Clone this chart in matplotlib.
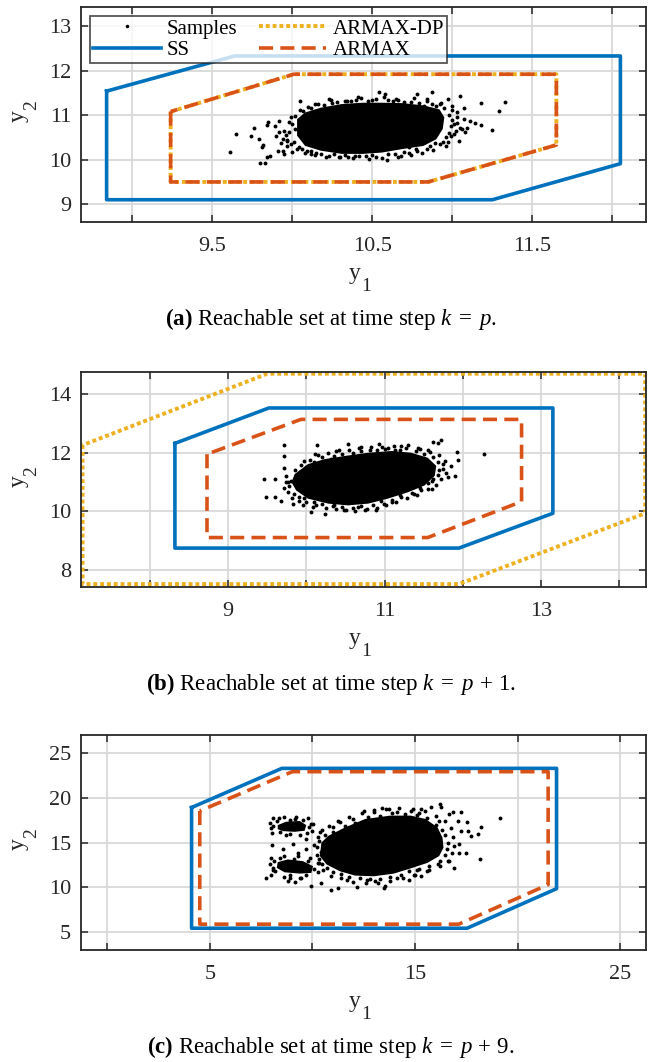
import numpy as np
import matplotlib
matplotlib.use('Agg')
import matplotlib.pyplot as plt

plt.rcParams['font.family'] = 'Liberation Serif'
plt.rcParams['mathtext.fontset'] = 'custom'
plt.rcParams['mathtext.rm'] = 'Liberation Serif'
plt.rcParams['mathtext.it'] = 'Liberation Serif:italic'
plt.rcParams['mathtext.bf'] = 'Liberation Serif:bold'

blue = '#0072BD'
orange = '#D95319'
yellow = '#EDB120'
dark = '#262626'

# ---------------- (a) k = p ----------------
ss_a_x = [8.84, 8.84, 11.25, 12.05, 12.05, 9.64]
ss_a_y = [11.54, 9.10, 9.10, 9.91, 12.33, 12.33]
armax_a_x = [9.24, 9.24, 10.85, 11.65, 11.65, 10.01]
armax_a_y = [11.08, 9.50, 9.50, 10.33, 11.92, 11.92]
dp_a_x = [9.24, 9.24, 10.85, 11.65, 11.65, 10.01]
dp_a_y = [11.08, 9.50, 9.50, 10.33, 11.92, 11.92]

# dense core of the sample cloud (outline)
core_a_x = [10.03, 10.08, 10.18, 10.31, 10.44, 10.56, 10.69, 10.82, 10.92, 10.95,
            10.94, 10.90, 10.82, 10.69, 10.56, 10.44, 10.31, 10.18, 10.08, 10.03]
core_a_y = [10.91, 11.06, 11.17, 11.25, 11.28, 11.28, 11.27, 11.22, 11.13, 10.95,
            10.69, 10.46, 10.31, 10.24, 10.16, 10.13, 10.13, 10.20, 10.31, 10.54]
# scattered samples around the core
pts_a_x = [9.61, 9.65, 9.80, 9.83, 9.84, 9.86, 9.81, 9.82, 9.79, 9.76, 9.74, 9.84, 9.85,
           9.89, 9.90, 9.92, 9.94, 9.95, 9.94, 9.91, 9.97, 9.99, 10.00, 10.05, 10.07,
           10.12, 10.18, 10.23, 10.30, 10.34, 10.41, 10.46, 10.54, 10.58, 10.59, 10.65,
           10.68, 10.73, 10.78, 10.82, 10.87, 10.93, 10.97, 11.00, 11.05, 11.07, 11.03,
           11.11, 11.14, 11.18, 11.18, 11.25, 11.29, 11.33, 11.04, 10.96, 10.89, 10.99,
           11.06, 11.09, 11.01, 10.84, 10.77, 10.39, 10.08, 10.04,
           10.14, 10.25, 10.37, 10.50, 10.63, 10.74, 10.87, 10.10, 10.23, 10.35, 10.52,
           10.64, 10.73, 10.84, 10.12,
           9.98, 10.00, 10.01, 9.97, 10.02, 9.96, 10.12, 10.20, 10.28, 10.40, 10.47,
           10.60, 10.70, 10.79, 10.90, 10.95, 10.98, 11.00, 10.99, 10.98, 10.96, 11.02,
           11.03, 10.94, 10.86, 10.78, 10.70, 10.60, 10.50, 10.42, 10.33, 10.26, 10.15,
           10.06,
           9.97, 9.99, 9.95, 9.98, 10.02, 9.93, 9.92, 10.05, 10.16, 10.24, 10.33, 10.43,
           10.52, 10.57, 10.66, 10.76, 10.84, 10.92, 11.00, 11.03, 11.05, 11.01, 10.97,
           11.08, 11.07, 10.92, 10.88, 10.81, 10.74, 10.66, 10.56, 10.48, 10.38, 10.29,
           10.21, 10.14, 10.09, 10.03]
pts_a_y = [10.18, 10.57, 9.92, 9.92, 10.05, 10.09, 10.28, 10.33, 10.46, 10.72, 10.54, 10.78, 10.85,
           10.75, 10.54, 10.87, 10.46, 10.13, 10.20, 10.20, 10.43, 10.95, 10.18, 11.32, 11.10,
           10.20, 10.13, 11.36, 10.05, 11.32, 11.40, 10.09, 11.53, 11.47, 10.00, 11.36,
           10.09, 10.28, 11.47, 11.21, 11.51, 11.28, 11.36, 11.21, 11.43, 11.17, 11.06,
           10.87, 10.82, 10.78, 11.28, 10.66, 11.10, 11.30, 10.43, 10.30, 10.37, 10.54,
           10.70, 10.72, 10.80, 11.36, 10.24, 10.09, 10.16, 10.28,
           11.25, 11.28, 11.32, 11.34, 11.32, 11.30, 11.25, 11.19, 10.09, 10.07, 10.07,
           10.13, 10.16, 10.24, 10.13,
           10.62, 10.80, 10.40, 10.30, 10.70, 10.55, 11.15, 11.22, 11.30, 11.34, 11.31,
           11.33, 11.30, 11.27, 11.20, 11.15, 11.00, 10.90, 10.75, 10.60, 10.50, 10.65,
           10.95, 10.40, 10.30, 10.20, 10.18, 10.12, 10.10, 10.08, 10.10, 10.12, 10.16,
           10.24,
           10.45, 10.35, 10.65, 10.85, 10.98, 10.38, 10.62, 11.12, 11.25, 11.35, 11.31, 11.38,
           11.36, 11.41, 11.35, 11.38, 11.31, 11.26, 11.12, 10.83, 10.72, 10.58, 10.40,
           10.62, 10.92, 10.35, 10.22, 10.16, 10.10, 10.07, 10.04, 10.02, 10.03, 10.06,
           10.07, 10.11, 10.19, 10.25]

# ---------------- (b) k = p + 1 ----------------
ss_b_x = [8.32, 8.32, 11.95, 13.15, 13.15, 9.52]
ss_b_y = [12.32, 8.74, 8.74, 9.93, 13.53, 13.53]
armax_b_x = [8.73, 8.73, 11.55, 12.75, 12.75, 9.93]
armax_b_y = [11.95, 9.10, 9.10, 10.33, 13.14, 13.14]
dp_b_x = [7.14, 7.14, 11.95, 14.33, 14.33, 9.50]
dp_b_y = [12.26, 7.51, 7.51, 9.93, 14.70, 14.70]

core_b_x = [9.85, 10.02, 10.23, 10.49, 10.79, 11.09, 11.34, 11.55, 11.66, 11.64,
            11.51, 11.30, 11.04, 10.79, 10.53, 10.28, 10.02, 9.87, 9.81]
core_b_y = [11.27, 11.61, 11.78, 11.89, 12.00, 12.06, 12.00, 11.83, 11.55, 11.21,
            10.88, 10.65, 10.43, 10.26, 10.20, 10.26, 10.43, 10.71, 10.99]
pts_b_x = [9.72, 10.13, 10.53, 10.93, 9.72, 9.72, 9.97, 10.11, 9.46, 9.60, 9.49, 9.60,
           9.67, 9.74, 9.77, 9.83, 9.96, 10.06, 10.09, 10.24, 10.34, 10.51, 10.66, 10.78,
           10.89, 10.99, 11.09, 11.21, 11.38, 11.47, 11.60, 11.62, 11.74, 11.81, 11.90,
           11.94, 11.92, 11.77, 11.68, 11.72, 11.62, 11.55, 11.30, 11.13, 11.04, 10.70,
           10.81, 10.32, 10.38, 11.43, 11.85, 10.17, 11.21, 12.27,
           9.78, 9.80, 9.84, 9.90, 9.92, 10.00, 10.10, 10.20, 10.35, 10.45, 10.60, 10.70,
           10.90, 11.00, 11.20, 11.40, 11.50, 11.62, 11.68, 11.70, 11.68, 11.60, 11.55,
           11.45, 11.35, 11.20, 11.10, 10.95, 10.85, 10.70, 10.60, 10.45, 10.35, 10.20,
           10.10, 9.97,
           9.72, 9.74, 9.76, 9.82, 9.85, 9.93, 10.05, 10.15, 10.28, 10.42, 10.55, 10.67,
           10.82, 10.97, 11.12, 11.27, 11.45, 11.58, 11.70, 11.75, 11.78, 11.72, 11.66,
           11.55, 11.42, 11.28, 11.15, 11.02, 10.90, 10.75, 10.62, 10.48, 10.38, 10.25,
           10.12, 10.00, 9.90]
pts_b_y = [12.28, 12.28, 12.31, 12.30, 11.89, 11.49, 11.72, 11.94, 11.10, 11.10, 10.48, 10.48,
           10.34, 11.21, 10.99, 10.26, 10.20, 9.98, 10.15, 9.92, 10.18, 10.03, 10.15, 10.07,
           10.03, 10.26, 10.31, 10.48, 10.60, 10.71, 10.76, 11.10, 11.44, 11.16, 11.21,
           11.75, 12.02, 11.72, 12.34, 12.45, 12.38, 12.11, 12.28, 12.11, 12.15, 12.19,
           12.11, 11.78, 12.06, 12.17, 11.55, 11.66, 12.22, 11.94,
           10.85, 11.05, 10.60, 10.50, 11.35, 11.50, 11.68, 11.85, 11.90, 11.97, 12.00, 12.05,
           12.08, 12.12, 12.08, 12.05, 11.95, 11.85, 11.70, 11.40, 11.25, 11.05, 10.95,
           10.80, 10.62, 10.55, 10.40, 10.35, 10.22, 10.18, 10.12, 10.15, 10.20, 10.25,
           10.32, 10.45,
           10.80, 11.00, 10.65, 10.45, 11.40, 11.58, 11.75, 11.92, 11.98, 12.08, 12.10, 12.15,
           12.18, 12.20, 12.22, 12.17, 12.13, 12.03, 11.92, 11.60, 11.30, 11.10, 10.90,
           10.75, 10.55, 10.45, 10.30, 10.22, 10.12, 10.05, 10.02, 10.05, 10.08, 10.12,
           10.22, 10.30, 10.35]

# ---------------- (c) k = p + 9 ----------------
ss_c_x = [4.11, 4.11, 17.54, 21.90, 21.90, 8.51]
ss_c_y = [18.91, 5.45, 5.45, 9.86, 23.28, 23.28]
armax_c_x = [4.51, 4.51, 17.13, 21.49, 21.49, 9.02]
armax_c_y = [18.53, 5.90, 5.90, 10.31, 22.91, 22.91]

core_c_x = [10.77, 11.59, 12.57, 13.80, 14.79, 15.52, 16.10, 16.34, 16.39, 16.18,
            15.61, 14.87, 13.97, 12.98, 12.08, 11.34, 10.69, 10.36, 10.44]
core_c_y = [15.75, 16.69, 17.63, 18.01, 18.01, 17.63, 16.69, 15.56, 14.44, 13.50,
            12.74, 12.18, 11.54, 11.24, 11.32, 11.80, 12.56, 13.50, 15.00]
core_c2_x = [8.31, 8.72, 9.38, 9.70, 9.62, 9.13, 8.56, 8.31]
core_c2_y = [16.95, 17.33, 17.41, 16.95, 16.32, 16.20, 16.28, 16.50]
core_c3_x = [8.31, 8.80, 9.54, 10.03, 9.95, 9.38, 8.64, 8.26]
core_c3_y = [12.82, 13.12, 12.93, 12.37, 11.62, 11.54, 11.69, 12.18]
pts_c_x = [7.74, 8.03, 8.07, 8.07, 8.80, 9.13, 8.89, 9.46, 9.95, 10.44, 10.93, 11.26,
           11.67, 12.16, 12.66, 13.07, 13.48, 13.56, 14.13, 14.70, 14.95, 15.28, 15.11,
           15.69, 16.10, 16.67, 16.92, 17.16, 17.49, 18.15, 17.16, 17.25, 17.57, 17.74,
           18.07, 18.23, 17.54, 17.08, 16.84, 16.67, 16.23, 16.26, 15.77, 15.28, 15.20,
           14.79, 14.13, 13.72, 13.39, 12.98, 12.49, 12.00, 11.34, 11.02, 10.36, 9.95,
           9.70, 9.70, 9.05, 19.13, 8.56, 9.30, 7.98, 8.39, 9.13, 16.18, 17.25,
           10.40, 10.30, 10.45, 10.70, 11.00, 11.40, 11.80, 12.30, 12.80, 13.30, 13.80,
           14.30, 14.70, 15.20, 15.70, 16.20, 16.45, 16.55, 16.60, 16.45, 16.30, 16.00,
           15.60, 15.10, 14.50, 13.90, 13.30, 12.70, 12.10, 11.60, 11.00, 10.60, 10.30,
           10.20,
           8.10, 8.25, 8.90, 9.55, 9.85, 9.75, 8.90, 8.40, 8.15, 8.40, 9.10, 9.80, 10.10,
           9.70, 8.90, 8.20,
           10.20, 10.10, 10.25, 10.45, 10.80, 11.25, 11.80, 12.40, 13.00, 13.60, 14.20,
           14.90, 15.50, 16.00, 16.45, 16.75, 16.85, 16.90, 16.80, 16.60, 16.20, 15.60,
           15.00, 14.40, 13.80, 13.20, 12.60, 12.00, 11.40, 10.90, 10.50, 10.25,
           7.95, 8.10, 8.60, 9.20, 9.80, 10.05, 10.00, 9.40, 8.70, 8.05, 7.95, 8.00, 8.60,
           9.30, 9.90, 10.30, 10.25, 9.40, 8.60, 8.00]
pts_c_y = [11.05, 14.70, 12.18, 11.92, 10.68, 10.56, 11.05, 11.05, 10.11, 10.49, 9.74, 9.92,
           10.86, 10.04, 10.86, 10.68, 9.92, 10.19, 11.05, 10.86, 11.43, 11.24, 11.92,
           11.92, 12.56, 12.93, 12.18, 13.87, 13.87, 13.20, 14.81, 16.32, 16.32, 15.68,
           15.94, 16.69, 17.26, 17.44, 18.38, 18.20, 19.32, 18.95, 18.95, 18.76, 18.31,
           18.57, 18.38, 18.76, 18.83, 18.38, 18.57, 17.63, 17.26, 16.69, 16.13, 17.07,
           15.38, 14.25, 14.81, 17.71, 14.25, 13.87, 16.58, 17.71, 17.63, 17.44, 18.38,
           14.00, 13.20, 12.60, 12.20, 11.70, 11.50, 11.20, 11.00, 10.90, 10.95, 11.20,
           11.40, 11.80, 12.00, 12.40, 12.90, 13.60, 14.30, 15.00, 15.80, 16.40, 17.00,
           17.70, 18.10, 18.20, 18.25, 18.00, 17.80, 17.20, 16.90, 16.20, 15.80, 15.20,
           14.50,
           16.90, 17.40, 17.55, 17.50, 16.70, 16.05, 16.00, 16.20, 12.90, 13.25, 13.20, 12.90, 12.00,
           11.35, 11.40, 11.80,
           13.60, 14.70, 15.60, 16.40, 16.90, 17.40, 17.80, 18.30, 18.60, 18.80, 18.90,
           18.80, 18.50, 18.00, 17.40, 16.60, 15.60, 14.60, 13.80, 13.00, 12.40, 11.80,
           11.40, 11.00, 10.70, 10.50, 10.50, 10.60, 11.00, 11.30, 11.90, 12.70,
           17.20, 17.70, 17.85, 17.90, 17.70, 17.10, 16.30, 15.80, 15.80, 16.10, 12.60, 13.30, 13.50,
           13.50, 13.30, 12.70, 11.70, 11.10, 11.15, 11.40]

captions = [r'$\mathbf{(a)}$ Reachable set at time step $k \;=\; p$.',
            r'$\mathbf{(b)}$ Reachable set at time step $k \;=\; p \,+\, 1$.',
            r'$\mathbf{(c)}$ Reachable set at time step $k \;=\; p \,+\, 9$.']

W, H = 650.0, 1062.0
panels_px = [(7, 222), (372, 587), (735, 950)]   # top, bottom of each axes in pixels


def closed(v):
    return list(v) + [v[0]]


def style_axes(ax, xlim, ylim, xticks, xlabels, yticks):
    ax.set_xlim(xlim)
    ax.set_ylim(ylim)
    ax.set_xticks(xticks)
    ax.set_xticklabels(xlabels)
    ax.set_yticks(yticks)
    ax.grid(True, color='#d9d9d9', linewidth=1.3)
    ax.set_axisbelow(True)
    ax.tick_params(direction='in', top=True, right=True, length=5, width=1.1,
                   colors=dark, labelsize=16)
    ax.tick_params(axis='x', pad=11)
    ax.tick_params(axis='y', pad=7)
    for s in ax.spines.values():
        s.set_linewidth(1.3)
        s.set_color(dark)


def axis_labels(fig, top, bottom):
    cx = 363.5
    fig.text((cx - 3) / W, 1 - (bottom + 57) / H, 'y', ha='right', va='baseline',
             fontsize=17, color=dark)
    fig.text((cx - 2) / W, 1 - (bottom + 69) / H, '1', ha='left', va='baseline',
             fontsize=14, color=dark)
    cy = (top + bottom) / 2 - 4
    fig.text(24 / W, 1 - cy / H, 'y', rotation=90, rotation_mode='anchor', ha='right',
             va='baseline', fontsize=17, color=dark)
    fig.text(36 / W, 1 - cy / H, '2', rotation=90, rotation_mode='anchor', ha='left',
             va='baseline', fontsize=14, color=dark)


fig = plt.figure(figsize=(6.5, 10.62), dpi=100)
axes = [fig.add_axes([81 / W, 1 - b / H, 565 / W, (b - t) / H]) for t, b in panels_px]
ax_a, ax_b, ax_c = axes

ms = 2.8
lw = 2.6
lw_dot = 2.8
dash = (0, (3.9, 2.0))
dot = (0, (1.0, 0.75))

# (a)
ax_a.fill(core_a_x, core_a_y, color='k', lw=0)
h_s, = ax_a.plot(pts_a_x, pts_a_y, 'o', ms=ms, mew=0, color='k', label='Samples')
h_ss, = ax_a.plot(closed(ss_a_x), closed(ss_a_y), color=blue, lw=lw, label='SS')
h_dp, = ax_a.plot(closed(dp_a_x), closed(dp_a_y), color=yellow, lw=lw_dot, ls=dot,
                  dash_capstyle='butt', label='ARMAX-DP')
h_ar, = ax_a.plot(closed(armax_a_x), closed(armax_a_y), color=orange, lw=lw, ls=dash,
                  dash_capstyle='butt', label='ARMAX')
style_axes(ax_a, (8.68, 12.21), (8.60, 13.43), np.arange(9.0, 12.01, 0.5),
           ['', '9.5', '', '10.5', '', '11.5', ''], [9, 10, 11, 12, 13])
leg = ax_a.legend(handles=[h_s, h_ss, h_dp, h_ar], ncol=2, loc='upper left',
                  bbox_to_anchor=(9 / 565, 1 - 9 / 215), fontsize=15, frameon=True,
                  fancybox=False, edgecolor=dark, framealpha=0.78, borderpad=0.15,
                  labelspacing=0.08, handlelength=3.25, handletextpad=0.3,
                  columnspacing=1.0, borderaxespad=0, markerscale=0.9)
leg.get_frame().set_linewidth(1.3)

# (b)
ax_b.fill(core_b_x, core_b_y, color='k', lw=0)
ax_b.plot(pts_b_x, pts_b_y, 'o', ms=ms, mew=0, color='k')
ax_b.plot(closed(ss_b_x), closed(ss_b_y), color=blue, lw=lw)
ax_b.plot(closed(dp_b_x), closed(dp_b_y), color=yellow, lw=lw_dot, ls=dot,
          dash_capstyle='butt')
ax_b.plot(closed(armax_b_x), closed(armax_b_y), color=orange, lw=lw, ls=dash,
          dash_capstyle='butt')
style_axes(ax_b, (7.12, 14.34), (7.41, 14.76), np.arange(8, 15),
           ['', '9', '', '11', '', '13', ''], [8, 10, 12, 14])

# (c)
for cx, cy in [(core_c_x, core_c_y), (core_c2_x, core_c2_y), (core_c3_x, core_c3_y)]:
    ax_c.fill(cx, cy, color='k', lw=0)
ax_c.plot(pts_c_x, pts_c_y, 'o', ms=ms, mew=0, color='k')
ax_c.plot(closed(ss_c_x), closed(ss_c_y), color=blue, lw=lw)
ax_c.plot(closed(armax_c_x), closed(armax_c_y), color=orange, lw=lw, ls=dash,
          dash_capstyle='butt')
style_axes(ax_c, (-1.28, 26.26), (3.02, 27.0), np.arange(0, 26, 5),
           ['', '5', '', '15', '', '25'], [5, 10, 15, 20, 25])

for t, b in panels_px:
    axis_labels(fig, t, b)

for cap, yc in zip(captions, [319, 684, 1047]):
    fig.text(331 / W, 1 - yc / H, cap, ha='center', va='center', fontsize=16.5, color='k')

fig.savefig('out.png', dpi=100)
